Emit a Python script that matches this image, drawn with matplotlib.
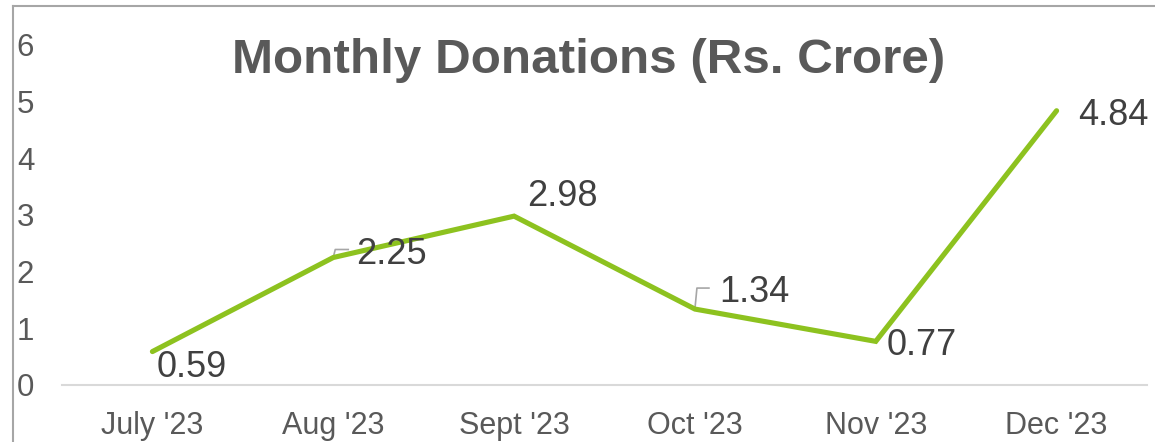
import matplotlib
matplotlib.use("Agg")
from matplotlib import pyplot as plt
from matplotlib import transforms as mtransforms
from matplotlib.lines import Line2D

months = ["July '23", "Aug '23", "Sept '23", "Oct '23", "Nov '23", "Dec '23"]
donations = [0.59, 2.25, 2.98, 1.34, 0.77, 4.84]
yticks = [0, 1, 2, 3, 4, 5, 6]

# label offsets in pixels from each point (left edge, baseline)
label_offsets = [(4, -25), (23, -6), (13, 10), (24, 7), (11, -14), (22, -14)]
# leader lines (pixel offsets from the point) for the moved labels
leaders = {1: [(0, 0), (2, 8), (15, 8)], 3: [(0, 0), (2, 21), (14, 21)]}

plt.rcParams['font.family'] = ['Liberation Sans', 'DejaVu Sans']

W, H = 1155, 442
fig = plt.figure(figsize=(W / 100, H / 100), dpi=100)
ax = fig.add_axes([62 / W, (H - 385) / H, (1147 - 62) / W, 340 / H])

x = list(range(len(months)))
ax.plot(x, donations, color="#8DC21F", lw=3.7, solid_capstyle="round", solid_joinstyle="miter", zorder=3)
ax.set_xlim(-0.5, len(months) - 0.5)
ax.set_ylim(0, 6)

for sp in ["top", "right", "left"]:
    ax.spines[sp].set_visible(False)
ax.spines["bottom"].set_color("#D9D9D9")
ax.spines["bottom"].set_linewidth(1.5)

ax.set_xticks(x)
ax.set_xticklabels(months)
ax.set_yticks(yticks)
ax.set_yticklabels([str(t) for t in yticks])
ax.tick_params(axis="x", length=0, pad=19, labelsize=22, labelcolor="#595959")
ax.tick_params(axis="y", length=0, pad=20, labelsize=22.5, labelcolor="#595959")

px_offset = mtransforms.Affine2D()  # offsets are already in pixels
for i, (v, (dx, dy)) in enumerate(zip(donations, label_offsets)):
    ax.annotate(f"{v:.2f}", xy=(i, v), xytext=(dx, dy), textcoords="offset pixels",
                ha="left", va="baseline", fontsize=26, color="#404040", zorder=4)
    if i in leaders:
        tr = px_offset + mtransforms.ScaledTranslation(i, v, ax.transData)
        lx = [p[0] for p in leaders[i]]
        ly = [p[1] for p in leaders[i]]
        ax.plot(lx, ly, color="#A6A6A6", lw=1.2, transform=tr, clip_on=False, zorder=2)

fig.text(589 / W, 1 - 73 / H, "Monthly Donations (Rs. Crore)", ha="center", va="baseline",
         fontsize=35.6, fontweight="bold", color="#595959")

# chart area border (cropped: only left and top visible)
fig.add_artist(Line2D([12.5 / W, 12.5 / W], [0, 1 - 6 / H], transform=fig.transFigure,
                      color="#A6A6A6", lw=1.5))
fig.add_artist(Line2D([12.5 / W, 1], [1 - 6 / H, 1 - 6 / H], transform=fig.transFigure,
                      color="#A6A6A6", lw=1.5))

fig.savefig("out.png", dpi=100)
